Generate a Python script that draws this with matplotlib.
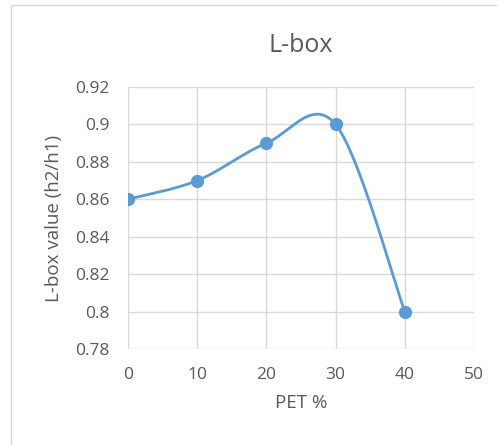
import numpy as np
import matplotlib
matplotlib.use("Agg")
import matplotlib.pyplot as plt
from matplotlib.patches import Rectangle

plt.rcParams['font.family'] = ['Open Sans', 'DejaVu Sans']

pet_percent = [0, 10, 20, 30, 40]
lbox_value = [0.86, 0.87, 0.89, 0.90, 0.80]
x_ticks = [0, 10, 20, 30, 40, 50]
y_ticks = [0.78, 0.8, 0.82, 0.84, 0.86, 0.88, 0.9, 0.92]
y_tick_labels = ['0.78', '0.8', '0.82', '0.84', '0.86', '0.88', '0.9', '0.92']

BLUE = '#5B9BD5'
GRID = '#D9D9D9'
TEXT = '#595959'


def smooth_curve(xs, ys, n=60):
    """Cubic Bezier spline through the points (spreadsheet-style smoothing)."""
    pts = np.column_stack([xs, ys]).astype(float)
    out = []
    for i in range(len(pts) - 1):
        p0 = pts[i - 1] if i > 0 else pts[i]
        p1 = pts[i]
        p2 = pts[i + 1]
        p3 = pts[i + 2] if i + 2 < len(pts) else pts[i + 1]
        c1 = p1 + (p2 - p0) / 6.0
        c2 = p2 - (p3 - p1) / 6.0
        t = np.linspace(0, 1, n)[:, None]
        seg = ((1 - t) ** 3) * p1 + 3 * ((1 - t) ** 2) * t * c1 \
            + 3 * (1 - t) * t ** 2 * c2 + t ** 3 * p2
        out.append(seg if i == 0 else seg[1:])
    curve = np.vstack(out)
    return curve[:, 0], curve[:, 1]


fig = plt.figure(figsize=(4.97, 4.45), dpi=100)

# chart frame
fig.patches.append(Rectangle((11 / 497, -0.05), 1.2, 1 - 5 / 445 + 0.05,
                             transform=fig.transFigure, fill=False,
                             edgecolor='#D9D9D9', linewidth=1.0))

ax = fig.add_axes([128 / 497, 1 - 349 / 445, (474 - 128) / 497, (349 - 87) / 445])

cx, cy = smooth_curve(pet_percent, lbox_value)
ax.plot(cx, cy, color=BLUE, linewidth=2.0, solid_capstyle='round', zorder=3)
ax.plot(pet_percent, lbox_value, 'o', color=BLUE, markersize=8.5, zorder=4)

ax.set_xlim(0, 50)
ax.set_ylim(0.78, 0.92)
ax.set_xticks(x_ticks)
ax.set_yticks(y_ticks)
ax.set_yticklabels(y_tick_labels)
ax.grid(True, color=GRID, linewidth=1.0)
ax.set_axisbelow(True)
for s in ax.spines.values():
    s.set_visible(False)
ax.tick_params(length=0, labelsize=12.5, labelcolor=TEXT)
ax.tick_params(axis='y', pad=13)
ax.tick_params(axis='x', pad=13)

ax.set_xlabel('PET %', fontsize=13.5, color=TEXT, labelpad=8)
ax.set_ylabel('L-box value (h2/h1)', fontsize=13.5, color=TEXT, labelpad=9)
ax.set_title('L-box', fontsize=18, color=TEXT, pad=25)

fig.savefig('out.png', dpi=100)
